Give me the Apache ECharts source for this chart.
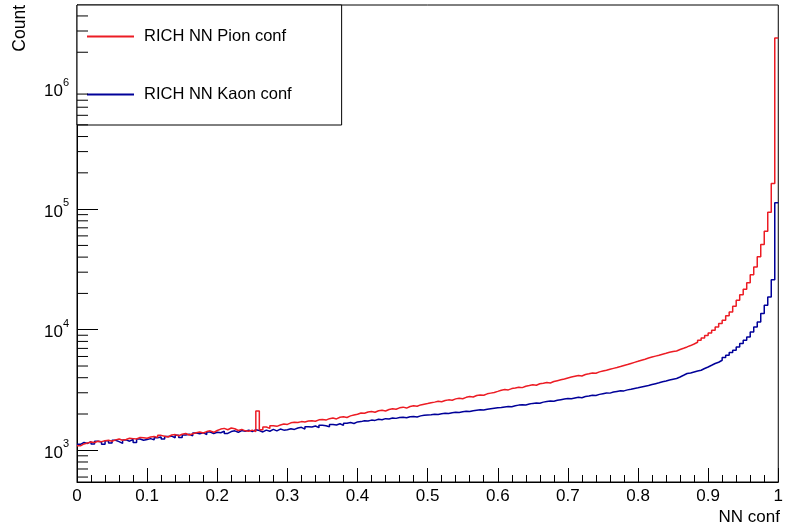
<!DOCTYPE html>
<html>
<head>
<meta charset="utf-8">
<script src="https://cdn.jsdelivr.net/npm/echarts@6.0.0/dist/echarts.min.js"></script>
<style>
  html, body { margin: 0; padding: 0; background: #fff; }
  #chart { width: 786px; height: 531px; }
</style>
</head>
<body>
<div id="chart"></div>
<script>
// histogram binning: 200 bins on [0, 1]
const binWidth = 0.005;
const xTickLabels = ['0', '0.1', '0.2', '0.3', '0.4', '0.5', '0.6', '0.7', '0.8', '0.9', '1'];

const pionCounts = [
  1090, 1130, 1150, 1170, 1160, 1190, 1180, 1200, 1210, 1190, 1220, 1240, 1210, 1230, 1260, 1250, 1240, 1280, 1270, 1260,
  1290, 1300, 1280, 1330, 1310, 1290, 1340, 1350, 1320, 1360, 1380, 1340, 1370, 1400, 1420, 1390, 1430, 1450, 1410, 1460,
  1500, 1520, 1480, 1530, 1510, 1460, 1490, 1450, 1440, 1470, 1430, 2120, 1480, 1560, 1520, 1600, 1580, 1620, 1650, 1640,
  1690, 1710, 1700, 1730, 1720, 1750, 1760, 1740, 1790, 1800, 1780, 1830, 1850, 1820, 1880, 1900, 1870, 1930, 1960, 1990,
  2040, 2030, 2080, 2100, 2070, 2130, 2150, 2120, 2180, 2210, 2190, 2250, 2280, 2240, 2310, 2340, 2320, 2380, 2410, 2440,
  2480, 2510, 2550, 2530, 2590, 2620, 2600, 2670, 2700, 2680, 2750, 2790, 2770, 2850, 2880, 2860, 2940, 2980, 3020, 3080,
  3150, 3190, 3170, 3250, 3290, 3340, 3310, 3400, 3440, 3490, 3460, 3560, 3600, 3650, 3620, 3720, 3780, 3840, 3900, 3980,
  4050, 4110, 4170, 4130, 4250, 4310, 4380, 4350, 4470, 4540, 4610, 4700, 4780, 4860, 4950, 5050, 5140, 5250, 5360, 5470,
  5590, 5700, 5820, 5930, 6040, 6150, 6270, 6380, 6500, 6600,
  6670, 6850, 7020, 7200, 7390, 7620, 7870, 8180, 8550, 8950, 9400, 9910, 10550, 11250, 11990,
  13030, 14060, 15670, 17580, 19500, 21680, 24550, 28600, 33200, 40200, 50900, 65400, 94400, 163300, 2624000
];

const kaonCounts = [
  1120, 1160, 1140, 1180, 1130, 1190, 1170, 1120, 1200, 1150, 1210, 1180, 1140, 1220, 1190, 1230, 1160, 1240, 1210, 1230,
  1250, 1220, 1270, 1290, 1240, 1300, 1310, 1270, 1330, 1280, 1340, 1360, 1320, 1390, 1370, 1400, 1350, 1420, 1380, 1410,
  1400, 1440, 1380, 1430, 1450, 1410, 1460, 1440, 1470, 1430, 1480, 1460, 1420, 1470, 1440, 1490, 1450, 1500, 1470, 1480,
  1510, 1490, 1530, 1550, 1500, 1570, 1560, 1590, 1540, 1610, 1600, 1570, 1640, 1620, 1660, 1610, 1680, 1700, 1670, 1720,
  1730, 1760, 1750, 1780, 1770, 1810, 1790, 1830, 1820, 1850, 1840, 1870, 1880, 1860, 1900, 1910, 1890, 1930, 1950, 1960,
  1970, 1990, 1980, 2010, 2030, 2020, 2050, 2070, 2060, 2090, 2110, 2100, 2130, 2150, 2170, 2160, 2190, 2210, 2230, 2250,
  2260, 2290, 2310, 2300, 2340, 2370, 2390, 2380, 2420, 2450, 2470, 2460, 2510, 2540, 2560, 2550, 2600, 2630, 2660, 2690,
  2680, 2720, 2750, 2730, 2790, 2820, 2860, 2850, 2910, 2950, 2990, 2980, 3040, 3080, 3120, 3110, 3170, 3210, 3260, 3300,
  3350, 3400, 3450, 3510, 3570, 3630, 3700, 3760, 3830, 3890,
  3936, 4058, 4192, 4335, 4380, 4465, 4550, 4612, 4765, 4912, 5073, 5244, 5375, 5582, 5877,
  6142, 6467, 6758, 7200, 7690, 8180, 8710, 9590, 10550, 11610, 13620, 15970, 18720, 26000, 113200
];

const yMin = 546;
const yMax = 4.93e6;

// step data: value at each bin low edge, closed at x = 1
function toSteps(counts) {
  const pts = counts.map((c, i) => [i * binWidth, c]);
  pts.push([counts.length * binWidth, counts[counts.length - 1]]);
  return pts;
}

// log minor ticks (2..9 x 10^n) inside the range
const minorTickValues = [];
for (let d = 2; d <= 6; d++) {
  for (let k = 2; k <= 9; k++) {
    const v = k * Math.pow(10, d);
    if (v > yMin && v < yMax) minorTickValues.push([0, v]);
  }
}

const font = 'Liberation Sans, Arial, sans-serif';
const chart = echarts.init(document.getElementById('chart'));

chart.setOption({
  animation: false,
  textStyle: { fontFamily: font },
  grid: {
    left: 77, right: 6, top: 5, bottom: 49,
    show: true, borderColor: '#000', borderWidth: 1
  },
  legend: {
    orient: 'vertical',
    left: 77, top: 5,
    padding: [23, 50, 22, 10],
    itemGap: 41,
    itemWidth: 47,
    itemHeight: 2,
    icon: 'rect',
    borderColor: '#000',
    borderWidth: 1,
    backgroundColor: '#fff',
    textStyle: { fontSize: 16.5, color: '#000', fontFamily: font, padding: [0, 0, 0, 5] },
    data: ['RICH NN Pion conf', 'RICH NN Kaon conf']
  },
  xAxis: {
    type: 'value',
    min: 0, max: 1, interval: 0.1,
    axisLine: { lineStyle: { color: '#000', width: 1 } },
    axisTick: { inside: true, length: 14, lineStyle: { color: '#000' } },
    minorTick: { show: true, splitNumber: 5, length: 7, lineStyle: { color: '#000' } },
    splitLine: { show: false },
    axisLabel: {
      margin: 6, fontSize: 17, color: '#000', fontFamily: font,
      formatter: (v) => xTickLabels[Math.round(v * 10)]
    }
  },
  yAxis: {
    type: 'log',
    logBase: 10,
    min: yMin, max: yMax,
    axisLine: { show: true, lineStyle: { color: '#000', width: 1 } },
    axisTick: { inside: true, length: 21, lineStyle: { color: '#000' } },
    splitLine: { show: false },
    axisLabel: {
      margin: 8, color: '#000', fontFamily: font,
      formatter: (v) => {
        const e = Math.log10(v);
        if (Math.abs(e - Math.round(e)) > 1e-6) return '';
        return '{b|10}{s|' + Math.round(e) + '}';
      },
      rich: {
        b: { fontSize: 17, color: '#000', fontFamily: font, padding: [6, 0, 0, 0] },
        s: { fontSize: 11, color: '#000', fontFamily: font, verticalAlign: 'top', padding: [0, 0, 10, 0] }
      }
    }
  },
  graphic: [
    {
      type: 'text', x: 20, y: 5, rotation: Math.PI / 2,
      style: { text: 'Count', fontSize: 17.5, fontFamily: font, fill: '#000', align: 'right', verticalAlign: 'middle' }
    },
    {
      type: 'text', x: 780, y: 517,
      style: { text: 'NN conf', fontSize: 17, fontFamily: font, fill: '#000', align: 'right', verticalAlign: 'middle' }
    }
  ],
  series: [
    {
      name: 'RICH NN Pion conf',
      type: 'line',
      step: 'end',
      showSymbol: false,
      color: '#ec1c24',
      lineStyle: { color: '#ec1c24', width: 1.5 },
      data: toSteps(pionCounts),
      z: 3
    },
    {
      name: 'RICH NN Kaon conf',
      type: 'line',
      step: 'end',
      showSymbol: false,
      color: '#000099',
      lineStyle: { color: '#000099', width: 1.5 },
      data: toSteps(kaonCounts),
      z: 2
    },
    {
      // log-spaced minor ticks on the y axis
      type: 'custom',
      silent: true,
      clip: false,
      data: minorTickValues,
      renderItem: (params, api) => {
        const p = api.coord([api.value(0), api.value(1)]);
        return {
          type: 'line',
          shape: { x1: p[0], y1: p[1], x2: p[0] + 11, y2: p[1] },
          style: { stroke: '#000', lineWidth: 1 }
        };
      },
      z: 4
    }
  ]
});
</script>
</body>
</html>
